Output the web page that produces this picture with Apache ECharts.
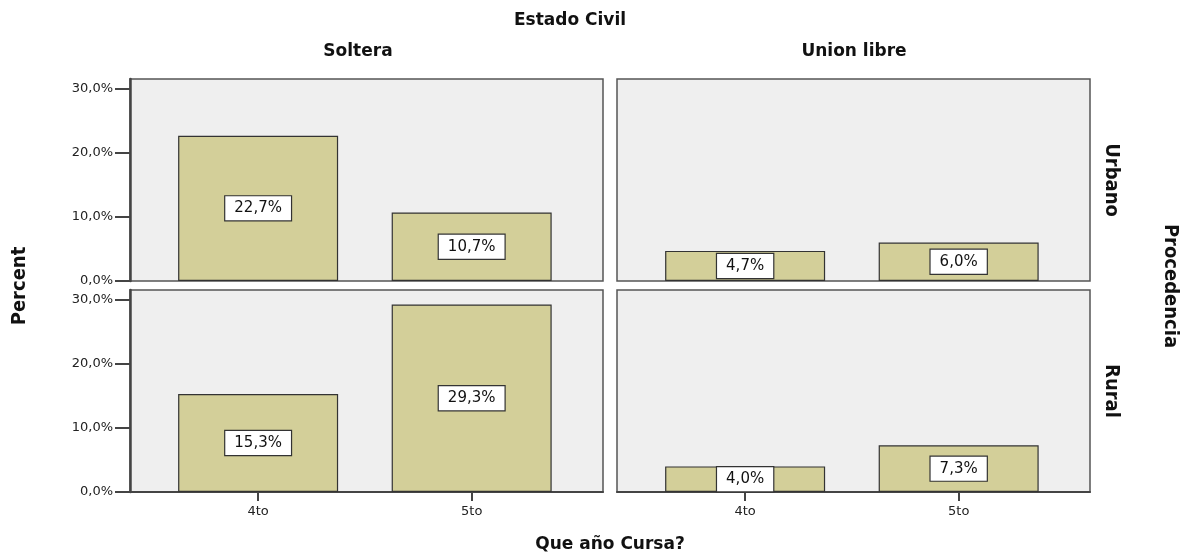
<!DOCTYPE html>
<html>
<head>
<meta charset="utf-8">
<script src="https://cdn.jsdelivr.net/npm/echarts@6/dist/echarts.min.js"></script>
<style>
  html, body { margin: 0; padding: 0; background: #fff; }
  #chart { width: 1183px; height: 553px; }
</style>
</head>
<body>
<div id="chart"></div>
<script>
// data (percent of total)
const years = ["4to", "5to"];
const solteraUrbano = [22.7, 10.7];
const unionUrbano = [4.7, 6.0];
const solteraRural = [15.3, 29.3];
const unionRural = [4.0, 7.3];
const yTicks = [0, 10, 20, 30];

const fmtPct = (v) => v.toFixed(1).replace(".", ",") + "%";

const panels = [
    { name: "solteraUrbano", data: solteraUrbano, left: 130, top: 79, yLabels: true, xLabels: false },
    { name: "unionUrbano", data: unionUrbano, left: 617, top: 79, yLabels: false, xLabels: false },
    { name: "solteraRural", data: solteraRural, left: 130, top: 290, yLabels: true, xLabels: true },
    { name: "unionRural", data: unionRural, left: 617, top: 290, yLabels: false, xLabels: true }
];

const grid = [], xAxis = [], yAxis = [], series = [];
panels.forEach((p, i) => {
    grid.push({
        left: p.left, top: p.top, width: 473, height: 202,
        show: true, backgroundColor: "#efefef",
        borderColor: "#555", borderWidth: 1.5
    });
    xAxis.push({
        type: "value", gridIndex: i, min: -0.6, max: 1.615,
        splitLine: { show: false },
        axisLine: { show: p.xLabels, onZero: false, lineStyle: { color: "#444", width: 2 } },
        axisTick: { show: p.xLabels, customValues: [0, 1], length: 9, lineStyle: { color: "#444", width: 2 } },
        axisLabel: {
            show: p.xLabels, customValues: [0, 1], margin: 13,
            formatter: (v) => years[v] || "",
            color: "#222", fontFamily: "DejaVu Sans", fontSize: 13
        }
    });
    yAxis.push({
        type: "value", gridIndex: i, min: 0, max: 31.56,
        splitLine: { show: false },
        axisLine: { show: p.yLabels, onZero: false, lineStyle: { color: "#444", width: 2.5 } },
        axisTick: { show: p.yLabels, customValues: yTicks, length: 15, lineStyle: { color: "#444", width: 2 } },
        axisLabel: {
            show: p.yLabels, customValues: yTicks, margin: 17,
            formatter: fmtPct,
            color: "#222", fontFamily: "DejaVu Sans", fontSize: 13
        }
    });
    series.push({
        name: p.name, type: "bar", xAxisIndex: i, yAxisIndex: i,
        barWidth: 160,
        data: p.data.map((v, k) => [k, v]),
        itemStyle: { color: "#d3cf99", borderColor: "#333", borderWidth: 1.2 },
        label: {
            show: true, position: "inside",
            formatter: (d) => fmtPct(d.value[1]),
            color: "#111", fontFamily: "DejaVu Sans", fontSize: 15,
            backgroundColor: "#fff", borderColor: "#333", borderWidth: 1.2,
            padding: [5, 9, 4, 9]
        },
        silent: true
    });
});

const boldText = (text, x, y, size, rotation) => ({
    type: "text", x: x, y: y, rotation: rotation || 0,
    style: {
        text: text, fill: "#111", font: "bold " + size + "px 'DejaVu Sans'",
        align: "center", verticalAlign: "middle"
    }
});
const narrowText = (text, x, y, size, rotation) => ({
    type: "text", x: x, y: y, rotation: rotation || 0,
    style: {
        text: text, fill: "#111", font: "bold " + size + "px 'DejaVu Sans Condensed', 'DejaVu Sans'",
        align: "center", verticalAlign: "middle"
    }
});

const option = {
    animation: false,
    backgroundColor: "#fff",
    grid, xAxis, yAxis, series,
    graphic: [
        boldText("Estado Civil", 570, 21, 17),
        boldText("Soltera", 358, 52, 17),
        boldText("Union libre", 854, 52, 17),
        boldText("Que año Cursa?", 610, 545, 17),
        narrowText("Percent", 20, 286, 20, Math.PI / 2),
        narrowText("Procedencia", 1170, 286, 20, -Math.PI / 2),
        narrowText("Urbano", 1111, 180, 20, -Math.PI / 2),
        narrowText("Rural", 1111, 391, 20, -Math.PI / 2)
    ]
};

const myChart = echarts.init(document.getElementById("chart"));
myChart.setOption(option);
</script>
</body>
</html>
